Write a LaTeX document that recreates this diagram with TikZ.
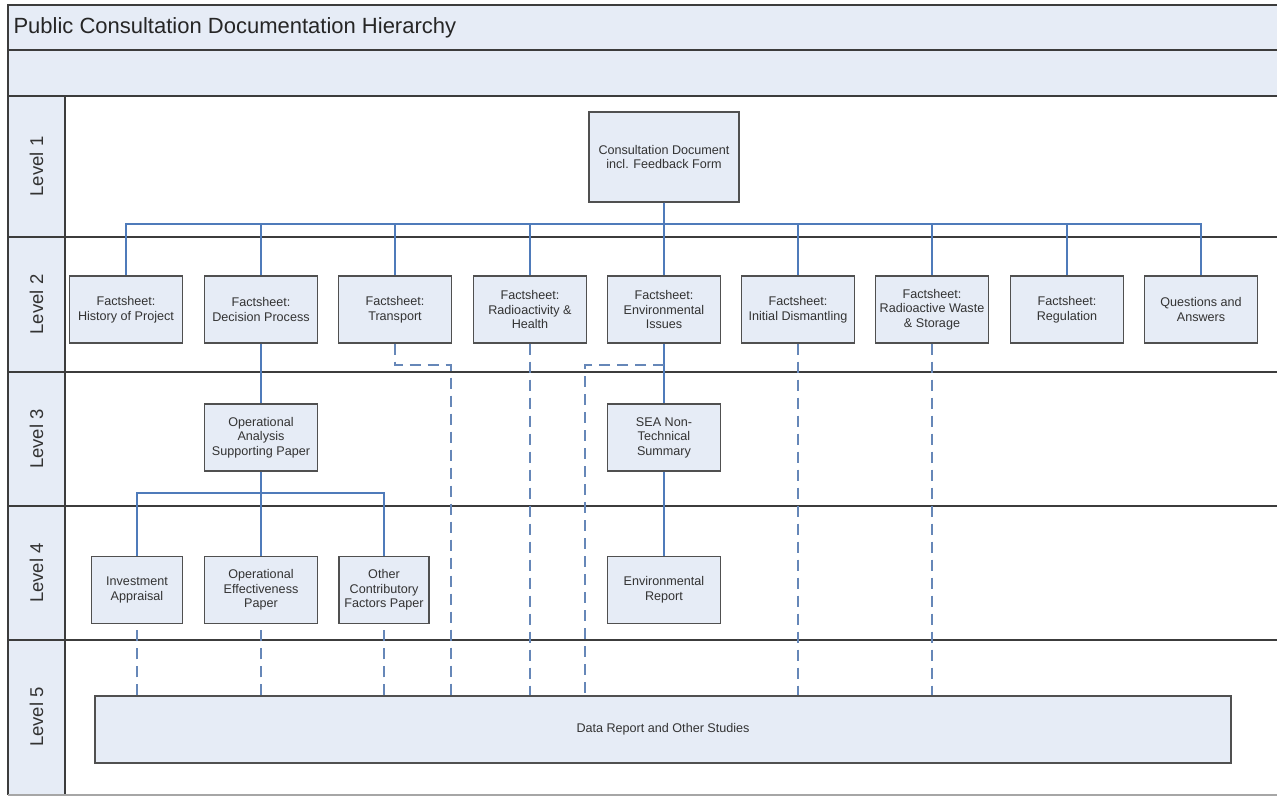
\documentclass[tikz,border=0pt]{standalone}
\usepackage{fontspec}
\setmainfont{Liberation Sans}
\definecolor{bandfill}{HTML}{E6ECF6}
\definecolor{framecol}{HTML}{3C3C3C}
\definecolor{conncol}{HTML}{4F7BBA}
\definecolor{dashcol}{HTML}{6687B8}
\begin{document}
\begin{tikzpicture}[x=1pt,y=-1pt,
  doc/.style={draw=framecol!90, line width=1.3pt, fill=bandfill, align=center,
    minimum width=113pt, minimum height=67pt, inner sep=1pt,
    font=\fontsize{12.6}{14.6}\selectfont, text=black!80},
  lane/.style={draw=framecol, line width=1.6pt},
  lanelabel/.style={rotate=90, font=\fontsize{18.5}{20}\selectfont, text=black!80},
  conn/.style={draw=conncol, line width=1.8pt},
  dashconn/.style={draw=dashcol, line width=1.8pt, dash pattern=on 11pt off 7pt}]
\useasboundingbox (0,0) rectangle (1277,796);
% bands and lane column
\fill[white] (0,0) rectangle (1277,796);
\fill[bandfill] (8,5) rectangle (1277,96);
\fill[bandfill] (8,96) rectangle (65,795);
\draw[lane] (1277,5) -- (8,5) -- (8,795);
\draw[lane] (8,50) -- (1277,50);
\draw[lane] (8,96) -- (1277,96);
\draw[lane] (65,96) -- (65,795);
\foreach \yy in {237,372,506,640} \draw[lane] (8,\yy) -- (1277,\yy);
\draw[black!35, line width=1.2pt] (8,795) -- (1277,795);
\node[anchor=west, font=\fontsize{22}{24}\selectfont, text=black!85] (title) at (10,28) {Public Consultation Documentation Hierarchy};
\node[lanelabel] (lv1) at (36.5,166.5) {Level 1};
\node[lanelabel] (lv2) at (36.5,304.5) {Level 2};
\node[lanelabel] (lv3) at (36.5,439) {Level 3};
\node[lanelabel] (lv4) at (36.5,573) {Level 4};
\node[lanelabel] (lv5) at (36.5,717) {Level 5};
% level 1
\node[doc, minimum width=150pt, minimum height=90pt] (top) at (664,157) {Consultation Document\\incl. Feedback Form};
% level 2
\node[doc] (b1) at (126,309.5) {Factsheet:\\History of Project};
\node[doc] (b2) at (261,309.5) {Factsheet:\\Decision Process};
\node[doc] (b3) at (395,309.5) {Factsheet:\\Transport};
\node[doc] (b4) at (530,309.5) {Factsheet:\\Radioactivity \&\\Health};
\node[doc] (b5) at (664,309.5) {Factsheet:\\Environmental\\Issues};
\node[doc] (b6) at (798,309.5) {Factsheet:\\Initial Dismantling};
\node[doc] (b7) at (932,309.5) {Factsheet:\\Radioactive Waste\\\& Storage};
\node[doc] (b8) at (1067,309.5) {Factsheet:\\Regulation};
\node[doc] (b9) at (1201,309.5) {Questions and\\Answers};
% level 3
\node[doc] (oa) at (261,437.5) {Operational\\Analysis\\Supporting Paper};
\node[doc] (sea) at (664,437.5) {SEA Non-\\Technical\\Summary};
% level 4
\node[doc, minimum width=91pt] (ia) at (137,590) {Investment\\Appraisal};
\node[doc] (oe) at (261,590) {Operational\\Effectiveness\\Paper};
\node[doc, minimum width=90pt] (ocf) at (384,590) {Other\\Contributory\\Factors Paper};
\node[doc] (er) at (664,590) {Environmental\\Report};
% level 5
\node[doc, minimum width=1136pt] (data) at (663,729.5) {Data Report and Other Studies};
% solid connectors
\coordinate (bus) at (664,224);
\foreach \b in {b1,b2,b3,b4,b5,b6,b7,b8,b9}
  \draw[conn] (top.south) -- (bus) -| (\b.north);
\coordinate (bus2) at (261,493);
\foreach \b in {ia,oe,ocf}
  \draw[conn] (oa.south) -- (bus2) -| (\b.north);
\draw[conn] (b2.south) -- (oa.north);
\draw[conn] (b5.south) -- (sea.north);
\draw[conn] (sea.south) -- (er.north);
% dashed connectors
\coordinate (tj) at (451,365);
\coordinate (ej) at (585,365);
\draw[dashconn] (b3.south) |- (tj) -- (tj |- data.north);
\draw[dashconn] (b5.south |- ej) -- (ej) -- (ej |- data.north);
\foreach \b in {b4,b6,b7}
  \draw[dashconn] (\b.south) -- (\b.south |- data.north);
\foreach \b in {ia,oe,ocf}
  \draw[dashconn] (\b.south |- data.north) -- (\b.south);
\end{tikzpicture}
\end{document}
